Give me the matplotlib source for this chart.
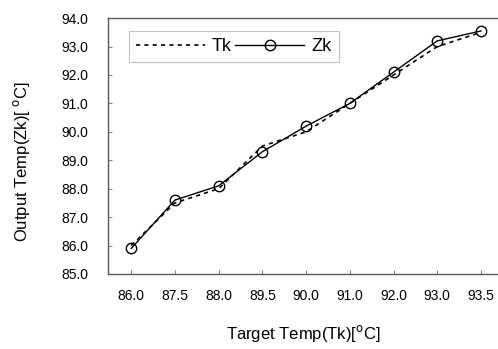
import matplotlib.pyplot as plt
import numpy as np

plt.rcParams['font.family'] = ['Liberation Sans', 'DejaVu Sans']

# target temperatures (category labels) and measured outputs
labels = ['86.0', '87.5', '88.0', '89.5', '90.0', '91.0', '92.0', '93.0', '93.5']
tk = [86.0, 87.5, 88.0, 89.5, 90.0, 91.0, 92.0, 93.0, 93.5]
zk = [85.9, 87.6, 88.1, 89.3, 90.2, 91.0, 92.1, 93.2, 93.55]

x = np.arange(len(labels))

fig = plt.figure(figsize=(4.98, 3.49), dpi=100)
ax = fig.add_axes([0.217, 0.215, 0.783, 0.733])

ax.plot(x, tk, color='black', lw=1.2, ls=(0, (2.5, 2.5)), label='Tk')
ax.plot(x, zk, color='black', lw=1.0, marker='o', ms=7.5,
        mfc='none', mec='black', mew=1.0, label='Zk')

ax.set_xlim(-0.53, 8.39)
ax.set_ylim(85, 94)
ax.set_xticks(x)
ax.set_xticklabels(labels)
ax.set_yticks(np.arange(85, 94.5, 1.0))
ax.set_yticklabels(['%.1f' % v for v in np.arange(85, 94.5, 1.0)])
ax.tick_params(direction='in', length=3, width=0.6, color='0.4',
               labelsize=10, pad=11)
ax.tick_params(axis='y', pad=14)

for s in ['left', 'bottom', 'top']:
    ax.spines[s].set_color('0.35')
    ax.spines[s].set_linewidth(1.0)
ax.spines['right'].set_visible(False)

ax.set_xlabel('Target Temp(Tk)[$^{\\rm o}$C]', fontsize=12, labelpad=14)
ax.set_ylabel('Output Temp(Zk)[ $^{\\rm o}$C]', fontsize=12)
ax.yaxis.set_label_coords(-0.195, 0.44)

leg = ax.legend(loc='upper left', ncol=2, fontsize=13, frameon=True,
                fancybox=False, handlelength=3.8, columnspacing=0.2,
                handletextpad=0.4, borderpad=0.4,
                bbox_to_anchor=(0.03, 0.985))
leg.get_frame().set_edgecolor('0.7')
leg.get_frame().set_linewidth(0.8)

fig.savefig('out.png', dpi=100)
